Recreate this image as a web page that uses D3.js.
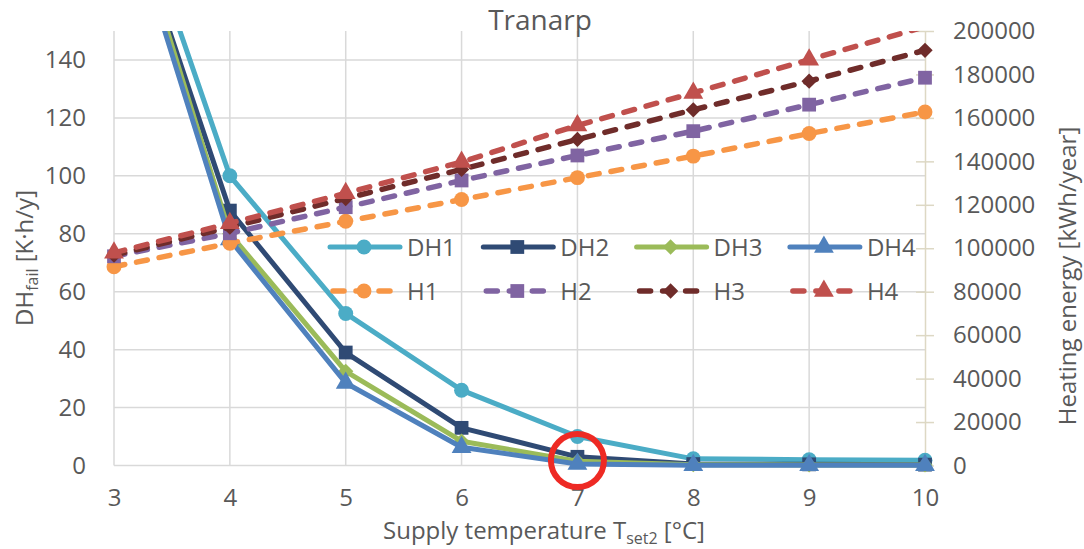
<!DOCTYPE html>
<html>
<head>
<meta charset="utf-8">
<script src="https://d3js.org/d3.v7.min.js"></script>
<style>
  body { margin: 0; background: #fff; }
  text { font-family: "Open Sans", sans-serif; fill: #595959; }
</style>
</head>
<body>
<div class="chart"></div>
<script>
// x values: supply temperature Tset2
var temps = [3, 4, 5, 6, 7, 8, 9, 10];

// DH_fail, left axis [K·h/y]
var dh1 = [216, 100, 52.5, 26, 10, 2.3, 2.0, 1.8];
var dh2 = [207, 88, 39, 13, 3, 0.5, 0.4, 0.3];
var dh3 = [210, 80, 32.5, 8.4, 1.5, 0.3, 0.2, 0.2];
var dh4 = [206, 78, 28.5, 6.3, 0.5, 0.1, 0.1, 0.1];

// heating energy, right axis [kWh/year]
var h1 = [91500, 102300, 112400, 122400, 132500, 142400, 152800, 162700];
var h2 = [96300, 106900, 118900, 131200, 142700, 153900, 166100, 178500];
var h3 = [96800, 109700, 122900, 136300, 150100, 163700, 176900, 191100];
var h4 = [97900, 111500, 125300, 139700, 156500, 171500, 186800, 202000];

var dhNames = ["DH1", "DH2", "DH3", "DH4"];
var hNames = ["H1", "H2", "H3", "H4"];
var xTicks = [3, 4, 5, 6, 7, 8, 9, 10];
var leftTicks = [0, 20, 40, 60, 80, 100, 120, 140];
var rightTicks = [0, 20000, 40000, 60000, 80000, 100000, 120000, 140000, 160000, 180000, 200000];

// point circled in red on the chart
var highlight = {x: 7, v: 1.7};

var w = 1084, h = 549;
var plotL = 114, plotR = 925, plotT = 31, plotB = 465.5;

var xScale = d3.scaleLinear().domain([3, 10]).range([plotL, plotR]);
var yLeft = d3.scaleLinear().domain([0, 150]).range([plotB, plotT]);
var yRight = d3.scaleLinear().domain([0, 200000]).range([plotB, plotT]);

var svg = d3.select("div.chart").append("svg")
  .attr("width", w).attr("height", h);

svg.append("defs").append("clipPath").attr("id", "plot")
  .append("rect").attr("x", 0).attr("y", plotT).attr("width", w).attr("height", h - plotT);

var grid = "#d9d9d9";
// horizontal gridlines
svg.append("g").selectAll("line").data(leftTicks).enter().append("line")
  .attr("x1", plotL).attr("x2", plotR)
  .attr("y1", function(d){ return yLeft(d); }).attr("y2", function(d){ return yLeft(d); })
  .attr("stroke", grid).attr("stroke-width", 1.5);
// vertical gridlines
svg.append("g").selectAll("line").data(xTicks.slice(0, -1)).enter().append("line")
  .attr("x1", function(d){ return xScale(d); }).attr("x2", function(d){ return xScale(d); })
  .attr("y1", plotT).attr("y2", plotB)
  .attr("stroke", grid).attr("stroke-width", 1.5);

// right axis with cross ticks
var axisColor = "#ddd8c4";
var yAxisR = d3.axisRight(yRight).tickValues(rightTicks).tickFormat(d3.format("d"))
  .tickSizeInner(0).tickSizeOuter(0).tickPadding(28);
var gR = svg.append("g").attr("transform", "translate(" + plotR + ",0)").call(yAxisR);
gR.select(".domain").attr("stroke", axisColor).attr("stroke-width", 1.5);
gR.selectAll(".tick line").attr("x1", -9).attr("x2", 9).attr("stroke", axisColor).attr("stroke-width", 1.5);
gR.selectAll(".tick text").attr("font-size", 24).attr("font-family", null).attr("fill", "#595959");

// left axis labels
var yAxisL = d3.axisLeft(yLeft).tickValues(leftTicks).tickSize(0).tickPadding(28);
var gL = svg.append("g").attr("transform", "translate(" + plotL + ",0)").call(yAxisL);
gL.select(".domain").remove();
gL.selectAll(".tick text").attr("font-size", 24).attr("font-family", null).attr("fill", "#595959");

// x axis labels
var xAxis = d3.axisBottom(xScale).tickValues(xTicks).tickFormat(d3.format("d")).tickSize(0).tickPadding(23);
var gX = svg.append("g").attr("transform", "translate(0," + plotB + ")").call(xAxis);
gX.select(".domain").remove();
gX.selectAll(".tick text").attr("font-size", 24).attr("font-family", null).attr("fill", "#595959");

// series definitions
var dhSeries = [
  {name: dhNames[0], vals: dh1, color: "#4bacc6", shape: d3.symbolCircle, size: 175},
  {name: dhNames[1], vals: dh2, color: "#2f4a74", shape: d3.symbolSquare, size: 190},
  {name: dhNames[2], vals: dh3, color: "#9bbb59", shape: d3.symbolDiamond2, size: 150},
  {name: dhNames[3], vals: dh4, color: "#4f81bd", shape: d3.symbolTriangle, size: 170}
];
var hSeries = [
  {name: hNames[0], vals: h1, color: "#f79646", shape: d3.symbolCircle, size: 175},
  {name: hNames[1], vals: h2, color: "#8064a2", shape: d3.symbolSquare, size: 190},
  {name: hNames[2], vals: h3, color: "#6f2c2a", shape: d3.symbolDiamond2, size: 150},
  {name: hNames[3], vals: h4, color: "#c0504d", shape: d3.symbolTriangle, size: 170}
];

var plot = svg.append("g");

function drawSeries(s, yScale, maxV, dashed) {
  var line = d3.line()
    .x(function(d, i){ return xScale(temps[i]); })
    .y(function(d){ return yScale(d); });
  var p = plot.append("path")
    .attr("d", line(s.vals))
    .attr("clip-path", "url(#plot)")
    .attr("fill", "none").attr("stroke", s.color).attr("stroke-width", 5)
    .attr("stroke-linejoin", "round");
  if (dashed) p.attr("stroke-width", 5.5).attr("stroke-dasharray", "11,12").attr("stroke-linecap", "round");
  var pts = s.vals.map(function(v, i){ return {x: temps[i], v: v}; })
    .filter(function(d){ return d.v <= maxV; });
  plot.append("g").selectAll("path").data(pts).enter().append("path")
    .attr("d", d3.symbol().type(s.shape).size(s.size))
    .attr("transform", function(d){ return "translate(" + xScale(d.x) + "," + yScale(d.v) + ")"; })
    .attr("fill", s.color);
}

dhSeries.forEach(function(s){ drawSeries(s, yLeft, 150, false); });
hSeries.forEach(function(s){ drawSeries(s, yRight, 200000, true); });

// legend
var legX = 330, legStep = 153.3, rowY = [247, 291];
[dhSeries, hSeries].forEach(function(row, r) {
  row.forEach(function(s, i) {
    var x0 = legX + i * legStep, y0 = rowY[r];
    var g = svg.append("g");
    var l = g.append("line").attr("x1", x0 + 3).attr("x2", x0 + 65)
      .attr("y1", y0).attr("y2", y0)
      .attr("stroke", s.color).attr("stroke-width", 5);
    if (r === 1) l.attr("stroke-width", 5.5).attr("stroke-dasharray", "11,12").attr("stroke-linecap", "round");
    else l.attr("x1", x0).attr("x2", x0 + 70).attr("stroke-linecap", "round");
    g.append("path").attr("d", d3.symbol().type(s.shape).size(s.size))
      .attr("transform", "translate(" + (x0 + 34) + "," + y0 + ")")
      .attr("fill", s.color);
    g.append("text").attr("x", x0 + 77).attr("y", y0 + 8.5)
      .attr("font-size", 24).text(s.name);
  });
});

// red circle annotation
svg.append("circle")
  .attr("cx", xScale(highlight.x)).attr("cy", yLeft(highlight.v)).attr("r", 26.5)
  .attr("fill", "none").attr("stroke", "#ee2a24").attr("stroke-width", 6);

// title
svg.append("text").attr("x", 540).attr("y", 30).attr("text-anchor", "middle")
  .attr("font-size", 28).text("Tranarp");

// x axis title
var xt = svg.append("text").attr("x", 544).attr("y", 539).attr("text-anchor", "middle")
  .attr("font-size", 24);
xt.append("tspan").text("Supply temperature T");
xt.append("tspan").attr("font-size", 16).attr("dy", 5).text("set2");
xt.append("tspan").attr("dy", -5).text(" [°C]");

// left axis title
var yt = svg.append("text").attr("transform", "translate(33,258) rotate(-90)")
  .attr("text-anchor", "middle").attr("font-size", 24);
yt.append("tspan").text("DH");
yt.append("tspan").attr("font-size", 16).attr("dy", 5).text("fail");
yt.append("tspan").attr("dy", -5).text(" [K·h/y]");

// right axis title
svg.append("text").attr("transform", "translate(1076,276) rotate(-90)")
  .attr("text-anchor", "middle").attr("font-size", 24)
  .text("Heating energy [kWh/year]");
</script>
</body>
</html>
